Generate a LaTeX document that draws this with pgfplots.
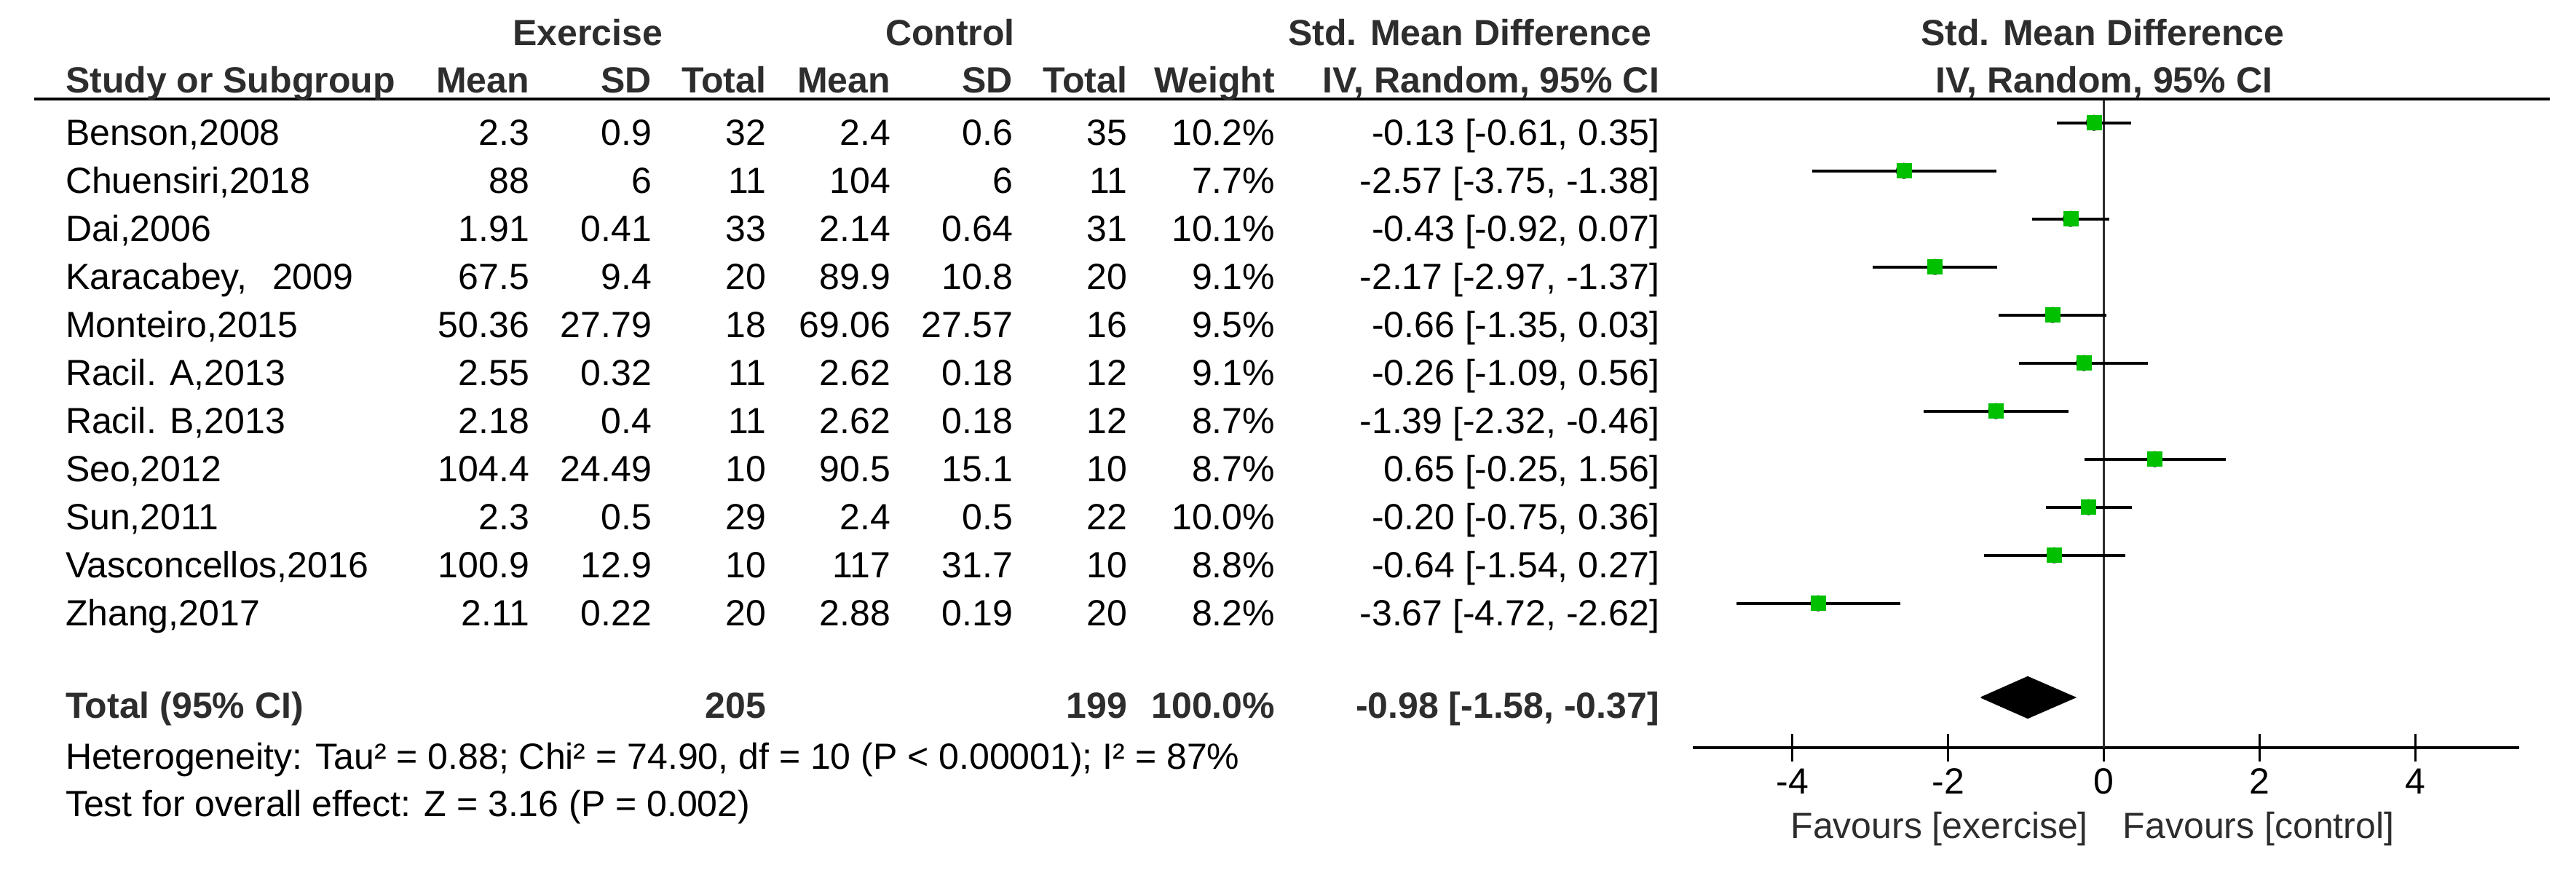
\documentclass[border=0pt]{standalone}
\usepackage{fontspec}
\setmainfont{Liberation Sans}
\usepackage{pgfplots}
\usepackage{pgfplotstable}
\pgfplotsset{compat=1.18}

\definecolor{boxgreen}{RGB}{0,192,0}
\definecolor{hdr}{RGB}{45,45,45}

% y = -row, smd with 95% CI, weight in %
\pgfplotstableread{
y     smd    lo     hi     w
-1    -0.13  -0.61   0.35  10.2
-2    -2.57  -3.75  -1.38   7.7
-3    -0.43  -0.92   0.07  10.1
-4    -2.17  -2.97  -1.37   9.1
-5    -0.66  -1.35   0.03   9.5
-6    -0.26  -1.09   0.56   9.1
-7    -1.39  -2.32  -0.46   8.7
-8     0.65  -0.25   1.56   8.7
-9    -0.20  -0.75   0.36  10.0
-10   -0.64  -1.54   0.27   8.8
-11   -3.67  -4.72  -2.62   8.2
}\studies

\begin{document}
\begin{tikzpicture}
\useasboundingbox (0pt,0pt) rectangle (707.6pt,-243.4pt);

\begin{axis}[
  at={(465pt,-205.4pt)}, anchor=south west,
  scale only axis, width=227pt, height=178.2pt,
  xmin=-5.28, xmax=5.33, ymin=-14.005, ymax=-0.505,
  axis x line=bottom, axis y line=none, ytick=\empty,
  axis line style={-, line width=0.7pt, black},
  xtick={-4,-2,0,2,4}, xticklabels={-4,-2,0,2,4},
  tick align=center, major tick length=7.4pt,
  x tick style={line width=0.6pt, black},
  xticklabel style={font=\fontsize{10}{12}\selectfont, anchor=base, inner sep=0pt, yshift=-8.9pt},
  clip=false,
]
  \draw[line width=0.6pt, hdr] (axis cs:0,-0.505) -- (axis cs:0,-14.005);

  % confidence intervals
  \addplot[only marks, mark=none,
    error bars/.cd, x dir=both, x explicit, error mark=none,
    error bar style={line width=0.8pt, black, solid}]
    table[x=smd, y=y,
      x error plus expr=\thisrow{hi}-\thisrow{smd},
      x error minus expr=\thisrow{smd}-\thisrow{lo}] {\studies};

  % study weights as green squares
  \addplot[scatter, only marks, mark=square*,
    point meta={\thisrow{w}},
    visualization depends on={0.162*\thisrow{w} \as \ms},
    scatter/@pre marker code/.append style={/tikz/mark size=\ms},
    scatter/use mapped color={draw=boxgreen, fill=boxgreen},
    mark options={line width=0.1pt}]
    table[x=smd, y=y] {\studies};

  % pooled estimate
  \addplot[draw=black, fill=black, line width=0.3pt] coordinates {
    (-1.58,-12.96) (-0.98,-12.53) (-0.37,-12.96) (-0.98,-13.39) (-1.58,-12.96)};
\end{axis}

\begin{scope}[x=0.2pt, y=-0.2pt,
  every node/.style={inner sep=0pt, outer sep=0pt, font=\fontsize{10}{12}\selectfont}]
  \draw[line width=0.8pt] (47,136) -- (3502,136);

  % header
  \begin{scope}[every node/.append style={font=\fontsize{10}{12}\selectfont\bfseries, text=hdr}]
    \node[anchor=base] at (807,63) {Exercise};
    \node[anchor=base] at (1305,63) {Control};
    \node[anchor=base] at (2019,63) {Std. Mean Difference};
    \node[anchor=base] at (2888,63) {Std. Mean Difference};
    \node[anchor=base west] at (90,128) {Study or Subgroup};
    \node[anchor=base east] at (727,128) {Mean};
    \node[anchor=base east] at (895,128) {SD};
    \node[anchor=base east] at (1052,128) {Total};
    \node[anchor=base east] at (1223,128) {Mean};
    \node[anchor=base east] at (1391,128) {SD};
    \node[anchor=base east] at (1548,128) {Total};
    \node[anchor=base east] at (1751,128) {Weight};
    \node[anchor=base east] at (2279,128) {IV, Random, 95\% CI};
    \node[anchor=base] at (2890,128) {IV, Random, 95\% CI};
  \end{scope}

  % study rows
  \foreach \b/\nm/\ma/\sa/\na/\mb/\sb/\nb/\wt/\ci in {
    200/{Benson,2008}/2.3/0.9/32/2.4/0.6/35/10.2/{-0.13 [-0.61, 0.35]},
    266/{Chuensiri,2018}/88/6/11/104/6/11/7.7/{-2.57 [-3.75, -1.38]},
    332/{Dai,2006}/1.91/0.41/33/2.14/0.64/31/10.1/{-0.43 [-0.92, 0.07]},
    398/{Karacabey,\kern0.7em 2009}/67.5/9.4/20/89.9/10.8/20/9.1/{-2.17 [-2.97, -1.37]},
    464/{Monteiro,2015}/50.36/27.79/18/69.06/27.57/16/9.5/{-0.66 [-1.35, 0.03]},
    530/{Racil. A,2013}/2.55/0.32/11/2.62/0.18/12/9.1/{-0.26 [-1.09, 0.56]},
    596/{Racil. B,2013}/2.18/0.4/11/2.62/0.18/12/8.7/{-1.39 [-2.32, -0.46]},
    662/{Seo,2012}/104.4/24.49/10/90.5/15.1/10/8.7/{0.65 [-0.25, 1.56]},
    728/{Sun,2011}/2.3/0.5/29/2.4/0.5/22/10.0/{-0.20 [-0.75, 0.36]},
    794/{Vasconcellos,2016}/100.9/12.9/10/117/31.7/10/8.8/{-0.64 [-1.54, 0.27]},
    860/{Zhang,2017}/2.11/0.22/20/2.88/0.19/20/8.2/{-3.67 [-4.72, -2.62]}}
  {
    \node[anchor=base west] at (90,\b) {\nm};
    \node[anchor=base east] at (727,\b) {\ma};
    \node[anchor=base east] at (895,\b) {\sa};
    \node[anchor=base east] at (1052,\b) {\na};
    \node[anchor=base east] at (1223,\b) {\mb};
    \node[anchor=base east] at (1391,\b) {\sb};
    \node[anchor=base east] at (1548,\b) {\nb};
    \node[anchor=base east] at (1751,\b) {\wt\%};
    \node[anchor=base east] at (2279,\b) {\ci};
  }

  % total row
  \begin{scope}[every node/.append style={font=\fontsize{10}{12}\selectfont\bfseries, text=hdr}]
    \node[anchor=base west] at (90,987) {Total (95\% CI)};
    \node[anchor=base east] at (1052,987) {205};
    \node[anchor=base east] at (1548,987) {199};
    \node[anchor=base east] at (1751,987) {100.0\%};
    \node[anchor=base east] at (2279,987) {-0.98 [-1.58, -0.37]};
  \end{scope}

  \node[anchor=base west] at (90,1057) {Heterogeneity: Tau² = 0.88; Chi² = 74.90, df = 10 (P < 0.00001); I² = 87\%};
  \node[anchor=base west] at (90,1122) {Test for overall effect: Z = 3.16 (P = 0.002)};

  \node[anchor=base east, text=hdr] at (2868,1152) {Favours [exercise]};
  \node[anchor=base west, text=hdr] at (2916,1152) {Favours [control]};
\end{scope}
\end{tikzpicture}
\end{document}
